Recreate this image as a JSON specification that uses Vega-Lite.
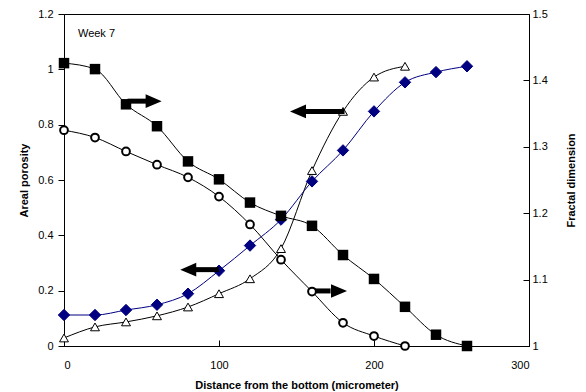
{
  "$schema": "https://vega.github.io/schema/vega-lite/v6.json",
  "width": 465,
  "height": 332,
  "autosize": "none",
  "padding": {"left": 64, "top": 14, "right": 57, "bottom": 46},
  "background": "white",
  "config": {
    "view": {"stroke": "black", "strokeWidth": 1},
    "axis": {
      "labelFont": "Liberation Sans",
      "labelFontSize": 11,
      "labelColor": "black",
      "titleFont": "Liberation Sans",
      "titleFontSize": 11,
      "titleFontWeight": "bold",
      "titleColor": "black",
      "domainColor": "black",
      "tickColor": "black",
      "grid": false
    }
  },
  "datasets": {
    "left": [
      {"x": 0, "y": 0.029, "s": "tri"}, {"x": 20, "y": 0.069, "s": "tri"}, {"x": 40, "y": 0.087, "s": "tri"},
      {"x": 60, "y": 0.109, "s": "tri"}, {"x": 80, "y": 0.141, "s": "tri"}, {"x": 100, "y": 0.189, "s": "tri"},
      {"x": 120, "y": 0.243, "s": "tri"}, {"x": 140, "y": 0.352, "s": "tri"}, {"x": 160, "y": 0.634, "s": "tri"},
      {"x": 180, "y": 0.848, "s": "tri"}, {"x": 200, "y": 0.972, "s": "tri"}, {"x": 220, "y": 1.011, "s": "tri"},
      {"x": 0, "y": 0.112, "s": "dia"}, {"x": 20, "y": 0.112, "s": "dia"}, {"x": 40, "y": 0.13, "s": "dia"},
      {"x": 60, "y": 0.149, "s": "dia"}, {"x": 80, "y": 0.189, "s": "dia"}, {"x": 100, "y": 0.272, "s": "dia"},
      {"x": 120, "y": 0.363, "s": "dia"}, {"x": 140, "y": 0.457, "s": "dia"}, {"x": 160, "y": 0.595, "s": "dia"},
      {"x": 180, "y": 0.707, "s": "dia"}, {"x": 200, "y": 0.848, "s": "dia"}, {"x": 220, "y": 0.953, "s": "dia"},
      {"x": 240, "y": 0.99, "s": "dia"}, {"x": 260, "y": 1.011, "s": "dia"}
    ],
    "right": [
      {"x": 0, "y": 1.426, "s": "sq"}, {"x": 20, "y": 1.417, "s": "sq"}, {"x": 40, "y": 1.364, "s": "sq"},
      {"x": 60, "y": 1.331, "s": "sq"}, {"x": 80, "y": 1.278, "s": "sq"}, {"x": 100, "y": 1.251, "s": "sq"},
      {"x": 120, "y": 1.216, "s": "sq"}, {"x": 140, "y": 1.196, "s": "sq"}, {"x": 160, "y": 1.181, "s": "sq"},
      {"x": 180, "y": 1.137, "s": "sq"}, {"x": 200, "y": 1.101, "s": "sq"}, {"x": 220, "y": 1.059, "s": "sq"},
      {"x": 240, "y": 1.017, "s": "sq"}, {"x": 260, "y": 1.0, "s": "sq"},
      {"x": 0, "y": 1.325, "s": "cir"}, {"x": 20, "y": 1.314, "s": "cir"}, {"x": 40, "y": 1.293, "s": "cir"},
      {"x": 60, "y": 1.273, "s": "cir"}, {"x": 80, "y": 1.254, "s": "cir"}, {"x": 100, "y": 1.225, "s": "cir"},
      {"x": 120, "y": 1.183, "s": "cir"}, {"x": 140, "y": 1.13, "s": "cir"}, {"x": 160, "y": 1.082, "s": "cir"},
      {"x": 180, "y": 1.035, "s": "cir"}, {"x": 200, "y": 1.015, "s": "cir"}, {"x": 220, "y": 1.0, "s": "cir"}
    ],
    "arrows": [
      {"x1": 41, "x2": 54, "tip": 63, "y": 0.885, "dir": "right"},
      {"x1": 155, "x2": 181, "tip": 145.8, "y": 0.848, "dir": "left"},
      {"x1": 85, "x2": 100, "tip": 75, "y": 0.276, "dir": "left"},
      {"x1": 160, "x2": 172, "tip": 182.6, "y": 0.199, "dir": "right"}
    ],
    "notes": [{"x": 9, "y": 1.127, "label": "Week 7"}]
  },
  "layer": [
    {
      "layer": [
        {
          "data": {"name": "left"},
          "mark": {"type": "line", "interpolate": "monotone", "strokeWidth": 1},
          "encoding": {
            "x": {"field": "x", "type": "quantitative"},
            "y": {"field": "y", "type": "quantitative"},
            "detail": {"field": "s"},
            "color": {"field": "s", "type": "nominal", "scale": {"domain": ["tri", "dia"], "range": ["#000000", "#000080"]}, "legend": null}
          }
        },
        {
          "data": {"name": "left"},
          "transform": [{"filter": "datum.s === 'tri'"}],
          "mark": {"type": "point", "shape": "triangle-up", "filled": true, "fill": "white", "stroke": "black", "strokeWidth": 1, "size": 80, "opacity": 1},
          "encoding": {
            "x": {"field": "x", "type": "quantitative"},
            "y": {"field": "y", "type": "quantitative"}
          }
        },
        {
          "data": {"name": "left"},
          "transform": [{"filter": "datum.s === 'dia'"}],
          "mark": {"type": "point", "shape": "diamond", "filled": true, "fill": "#000080", "stroke": "#000080", "strokeWidth": 1, "size": 130, "opacity": 1},
          "encoding": {
            "x": {"field": "x", "type": "quantitative"},
            "y": {"field": "y", "type": "quantitative"}
          }
        },
        {
          "data": {"name": "arrows"},
          "mark": {"type": "rule", "color": "black", "strokeWidth": 5},
          "encoding": {
            "x": {"field": "x1", "type": "quantitative"},
            "x2": {"field": "x2"},
            "y": {"field": "y", "type": "quantitative"}
          }
        },
        {
          "data": {"name": "arrows"},
          "mark": {"type": "point", "filled": true, "color": "black", "size": 256, "opacity": 1},
          "encoding": {
            "x": {"field": "tip", "type": "quantitative"},
            "y": {"field": "y", "type": "quantitative"},
            "shape": {"field": "dir", "type": "nominal", "scale": {"domain": ["right", "left"], "range": ["M0,0L-2,-0.85L-2,0.85Z", "M0,0L2,-0.85L2,0.85Z"]}, "legend": null}
          }
        },
        {
          "data": {"name": "notes"},
          "mark": {"type": "text", "align": "left", "baseline": "middle", "font": "Liberation Sans", "fontSize": 11, "color": "black"},
          "encoding": {
            "x": {"field": "x", "type": "quantitative"},
            "y": {"field": "y", "type": "quantitative"},
            "text": {"field": "label"}
          }
        }
      ],
      "encoding": {
        "x": {
          "field": "x", "type": "quantitative",
          "scale": {"domain": [0, 300], "nice": false, "zero": false},
          "axis": {"values": [0, 100, 200, 300], "tickSize": -6, "labelPadding": 19, "title": "Distance from the bottom (micrometer)", "titlePadding": 9, "format": "d", "titleColor": "black"}
        },
        "y": {
          "field": "y", "type": "quantitative",
          "scale": {"domain": [0, 1.2], "nice": false, "zero": false},
          "axis": {"orient": "left", "values": [0, 0.2, 0.4, 0.6, 0.8, 1, 1.2], "tickSize": 6, "labelPadding": 5, "format": "~g", "title": "Areal porosity", "titlePadding": 8, "titleColor": "black"}
        }
      }
    },
    {
      "data": {"name": "right"},
      "layer": [
        {
          "mark": {"type": "line", "interpolate": "monotone", "strokeWidth": 1, "color": "black"},
          "encoding": {
            "detail": {"field": "s"}
          }
        },
        {
          "transform": [{"filter": "datum.s === 'sq'"}],
          "mark": {"type": "point", "shape": "square", "filled": true, "color": "black", "size": 110, "opacity": 1}
        },
        {
          "transform": [{"filter": "datum.s === 'cir'"}],
          "mark": {"type": "point", "shape": "circle", "filled": true, "fill": "white", "stroke": "black", "strokeWidth": 2, "size": 60, "opacity": 1}
        }
      ],
      "encoding": {
        "x": {
          "field": "x", "type": "quantitative",
          "scale": {"domain": [0, 300], "nice": false, "zero": false},
          "axis": {"values": [0, 100, 200, 300], "tickSize": -6, "labelPadding": 19, "title": "Distance from the bottom (micrometer)", "titlePadding": 9, "format": "d", "titleColor": "black"}
        },
        "y": {
          "field": "y", "type": "quantitative",
          "scale": {"domain": [1, 1.5], "nice": false, "zero": false},
          "axis": {"orient": "right", "values": [1, 1.1, 1.2, 1.3, 1.4, 1.5], "tickSize": -6, "labelPadding": 9, "format": "~g", "title": "Fractal dimension", "titleAngle": -90, "titlePadding": 29, "titleColor": "black"}
        }
      }
    }
  ],
  "resolve": {"scale": {"y": "independent"}}
}
